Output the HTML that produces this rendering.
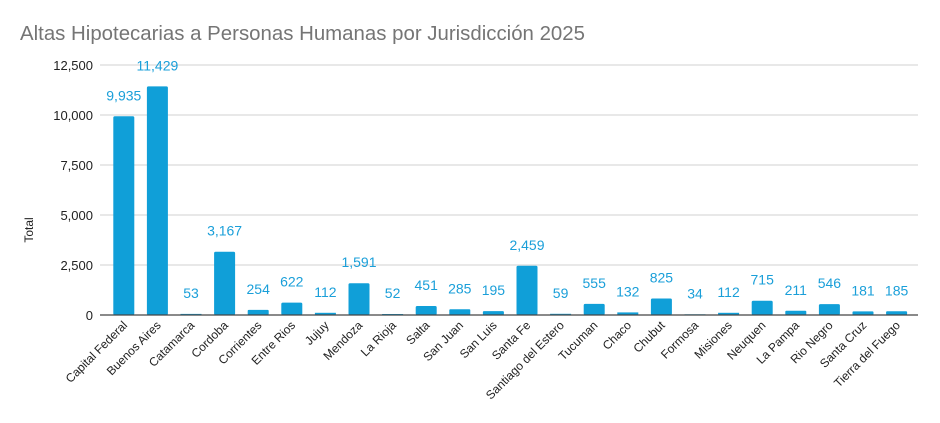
<!DOCTYPE html>
<html><head><meta charset="utf-8"><style>html,body{margin:0;padding:0;background:#fff}svg{display:block}</style></head>
<body>
<svg width="940" height="423" xmlns="http://www.w3.org/2000/svg" font-family="Liberation Sans, sans-serif">
<text x="20" y="40" font-size="20" fill="#757575" textLength="565" lengthAdjust="spacingAndGlyphs">Altas Hipotecarias a Personas Humanas por Jurisdicción 2025</text>
<g stroke="#d9d9d9" stroke-width="1.2">
<line x1="100" x2="918" y1="65" y2="65"/><line x1="100" x2="918" y1="115" y2="115"/><line x1="100" x2="918" y1="165" y2="165"/><line x1="100" x2="918" y1="215" y2="215"/><line x1="100" x2="918" y1="265" y2="265"/>
</g>
<g font-size="13" fill="#222" text-anchor="end">
<text x="93" y="70">12,500</text><text x="93" y="120">10,000</text><text x="93" y="170">7,500</text><text x="93" y="220">5,000</text><text x="93" y="270">2,500</text><text x="93" y="320">0</text>
</g>
<text transform="translate(33,230) rotate(-90)" font-size="12" fill="#222" text-anchor="middle">Total</text>
<g fill="#109fd8">
<rect x="113.3" y="116.3" width="21" height="198.7" rx="1.5"/>
<rect x="146.9" y="86.4" width="21" height="228.6" rx="1.5"/>
<rect x="180.5" y="313.9" width="21" height="1.1"/>
<rect x="214.1" y="251.7" width="21" height="63.3" rx="1.5"/>
<rect x="247.7" y="309.9" width="21" height="5.1" rx="1"/>
<rect x="281.3" y="302.6" width="21" height="12.4" rx="1.5"/>
<rect x="314.9" y="312.8" width="21" height="2.2"/>
<rect x="348.5" y="283.2" width="21" height="31.8" rx="1.5"/>
<rect x="382.1" y="314" width="21" height="1"/>
<rect x="415.7" y="306" width="21" height="9" rx="1.5"/>
<rect x="449.3" y="309.3" width="21" height="5.7" rx="1"/>
<rect x="482.9" y="311.1" width="21" height="3.9" rx="1"/>
<rect x="516.5" y="265.8" width="21" height="49.2" rx="1.5"/>
<rect x="550.1" y="313.8" width="21" height="1.2"/>
<rect x="583.7" y="303.9" width="21" height="11.1" rx="1.5"/>
<rect x="617.3" y="312.4" width="21" height="2.6"/>
<rect x="650.9" y="298.5" width="21" height="16.5" rx="1.5"/>
<rect x="684.5" y="314.3" width="21" height="0.7"/>
<rect x="718.1" y="312.8" width="21" height="2.2"/>
<rect x="751.7" y="300.7" width="21" height="14.3" rx="1.5"/>
<rect x="785.3" y="310.8" width="21" height="4.2" rx="1"/>
<rect x="818.9" y="304.1" width="21" height="10.9" rx="1.5"/>
<rect x="852.5" y="311.4" width="21" height="3.6" rx="1"/>
<rect x="886.1" y="311.3" width="21" height="3.7" rx="1"/>
</g>
<line x1="100" x2="918" y1="315" y2="315" stroke="#444" stroke-width="1.2"/>
<g font-size="14" fill="#1a9fd9" text-anchor="middle">
<text x="123.8" y="100.3">9,935</text>
<text x="157.4" y="70.4">11,429</text>
<text x="191" y="297.9">53</text>
<text x="224.6" y="235.7">3,167</text>
<text x="258.2" y="293.9">254</text>
<text x="291.8" y="286.6">622</text>
<text x="325.4" y="296.8">112</text>
<text x="359" y="267.2">1,591</text>
<text x="392.6" y="298">52</text>
<text x="426.2" y="290">451</text>
<text x="459.8" y="293.3">285</text>
<text x="493.4" y="295.1">195</text>
<text x="527" y="249.8">2,459</text>
<text x="560.6" y="297.8">59</text>
<text x="594.2" y="287.9">555</text>
<text x="627.8" y="296.4">132</text>
<text x="661.4" y="282.5">825</text>
<text x="695" y="298.3">34</text>
<text x="728.6" y="296.8">112</text>
<text x="762.2" y="284.7">715</text>
<text x="795.8" y="294.8">211</text>
<text x="829.4" y="288.1">546</text>
<text x="863" y="295.4">181</text>
<text x="896.6" y="295.3">185</text>
</g>
<g font-size="12" fill="#222" text-anchor="end">
<text transform="translate(128,326) rotate(-45)">Capital Federal</text>
<text transform="translate(161.6,326) rotate(-45)">Buenos Aires</text>
<text transform="translate(195.2,326) rotate(-45)">Catamarca</text>
<text transform="translate(228.8,326) rotate(-45)">Cordoba</text>
<text transform="translate(262.4,326) rotate(-45)">Corrientes</text>
<text transform="translate(296,326) rotate(-45)">Entre Rios</text>
<text transform="translate(329.6,326) rotate(-45)">Jujuy</text>
<text transform="translate(363.2,326) rotate(-45)">Mendoza</text>
<text transform="translate(396.8,326) rotate(-45)">La Rioja</text>
<text transform="translate(430.4,326) rotate(-45)">Salta</text>
<text transform="translate(464,326) rotate(-45)">San Juan</text>
<text transform="translate(497.6,326) rotate(-45)">San Luis</text>
<text transform="translate(531.2,326) rotate(-45)">Santa Fe</text>
<text transform="translate(564.8,326) rotate(-45)">Santiago del Estero</text>
<text transform="translate(598.4,326) rotate(-45)">Tucuman</text>
<text transform="translate(632,326) rotate(-45)">Chaco</text>
<text transform="translate(665.6,326) rotate(-45)">Chubut</text>
<text transform="translate(699.2,326) rotate(-45)">Formosa</text>
<text transform="translate(732.8,326) rotate(-45)">Misiones</text>
<text transform="translate(766.4,326) rotate(-45)">Neuquen</text>
<text transform="translate(800,326) rotate(-45)">La Pampa</text>
<text transform="translate(833.6,326) rotate(-45)">Rio Negro</text>
<text transform="translate(867.2,326) rotate(-45)">Santa Cruz</text>
<text transform="translate(900.8,326) rotate(-45)">Tierra del Fuego</text>
</g>
</svg>
</body></html>
